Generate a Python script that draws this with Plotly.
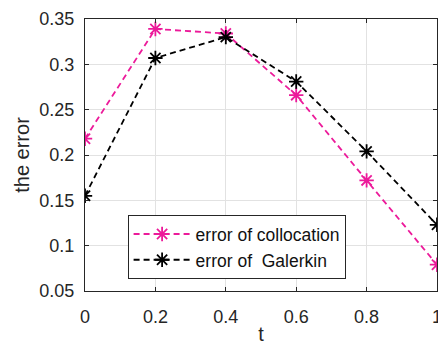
import plotly.graph_objects as go

t = [0, 0.2, 0.4, 0.6, 0.8, 1.0]
err_collocation = [0.218, 0.339, 0.334, 0.266, 0.172, 0.079]
err_galerkin = [0.155, 0.307, 0.330, 0.281, 0.204, 0.123]
x_ticks = [0, 0.2, 0.4, 0.6, 0.8, 1]
x_tick_labels = ["0", "0.2", "0.4", "0.6", "0.8", "1"]
y_ticks = [0.05, 0.1, 0.15, 0.2, 0.25, 0.3, 0.35]
y_tick_labels = ["0.05", "0.1", "0.15", "0.2", "0.25", "0.3", "0.35"]

FONT = "Liberation Sans, Arial, sans-serif"
TXT = "#262626"
pink = "#ec1a9a"

fig = go.Figure()
fig.add_trace(go.Scatter(
    x=t, y=err_collocation, mode="lines+markers", name="error of collocation",
    line=dict(color=pink, width=1.8, dash="6px,4px"),
    marker=dict(symbol="asterisk-open", size=12, color=pink, line=dict(color=pink, width=1.8)),
))
fig.add_trace(go.Scatter(
    x=t, y=err_galerkin, mode="lines+markers", name="error of\u00a0\u00a0Galerkin",
    line=dict(color="black", width=1.8, dash="6px,4px"),
    marker=dict(symbol="asterisk-open", size=12, color="black", line=dict(color="black", width=1.8)),
))

axis_common = dict(
    showline=True, linecolor=TXT, linewidth=1, mirror="ticks",
    ticks="inside", ticklen=4, tickcolor=TXT,
    showgrid=True, gridcolor="#e2e2e2", gridwidth=1, zeroline=False,
    tickfont=dict(family=FONT, size=18, color=TXT),
    ticklabeloverflow="allow",
)
fig.update_xaxes(range=[0, 1], tickvals=x_ticks, ticktext=x_tick_labels,
                 ticklabelstandoff=9,
                 title=dict(text="t", font=dict(family=FONT, size=20, color=TXT), standoff=4),
                 **axis_common)
fig.update_yaxes(range=[0.05, 0.35], tickvals=y_ticks, ticktext=y_tick_labels,
                 ticklabelstandoff=6,
                 title=dict(text="the error", font=dict(family=FONT, size=20, color=TXT), standoff=4),
                 **axis_common)
fig.update_layout(
    width=438, height=345,
    margin=dict(l=85, r=1, t=19, b=54, autoexpand=False),
    paper_bgcolor="white", plot_bgcolor="white",
    showlegend=True,
    legend=dict(x=0.121, y=0.279, xanchor="left", yanchor="top",
                bgcolor="white", bordercolor=TXT, borderwidth=1,
                font=dict(family=FONT, size=17.5, color="#111111"),
                tracegroupgap=0, itemwidth=57),
)
fig.write_html("out.html", config={"displayModeBar": False},
               post_script="document.body.style.margin='0px';document.body.style.overflow='hidden';")
